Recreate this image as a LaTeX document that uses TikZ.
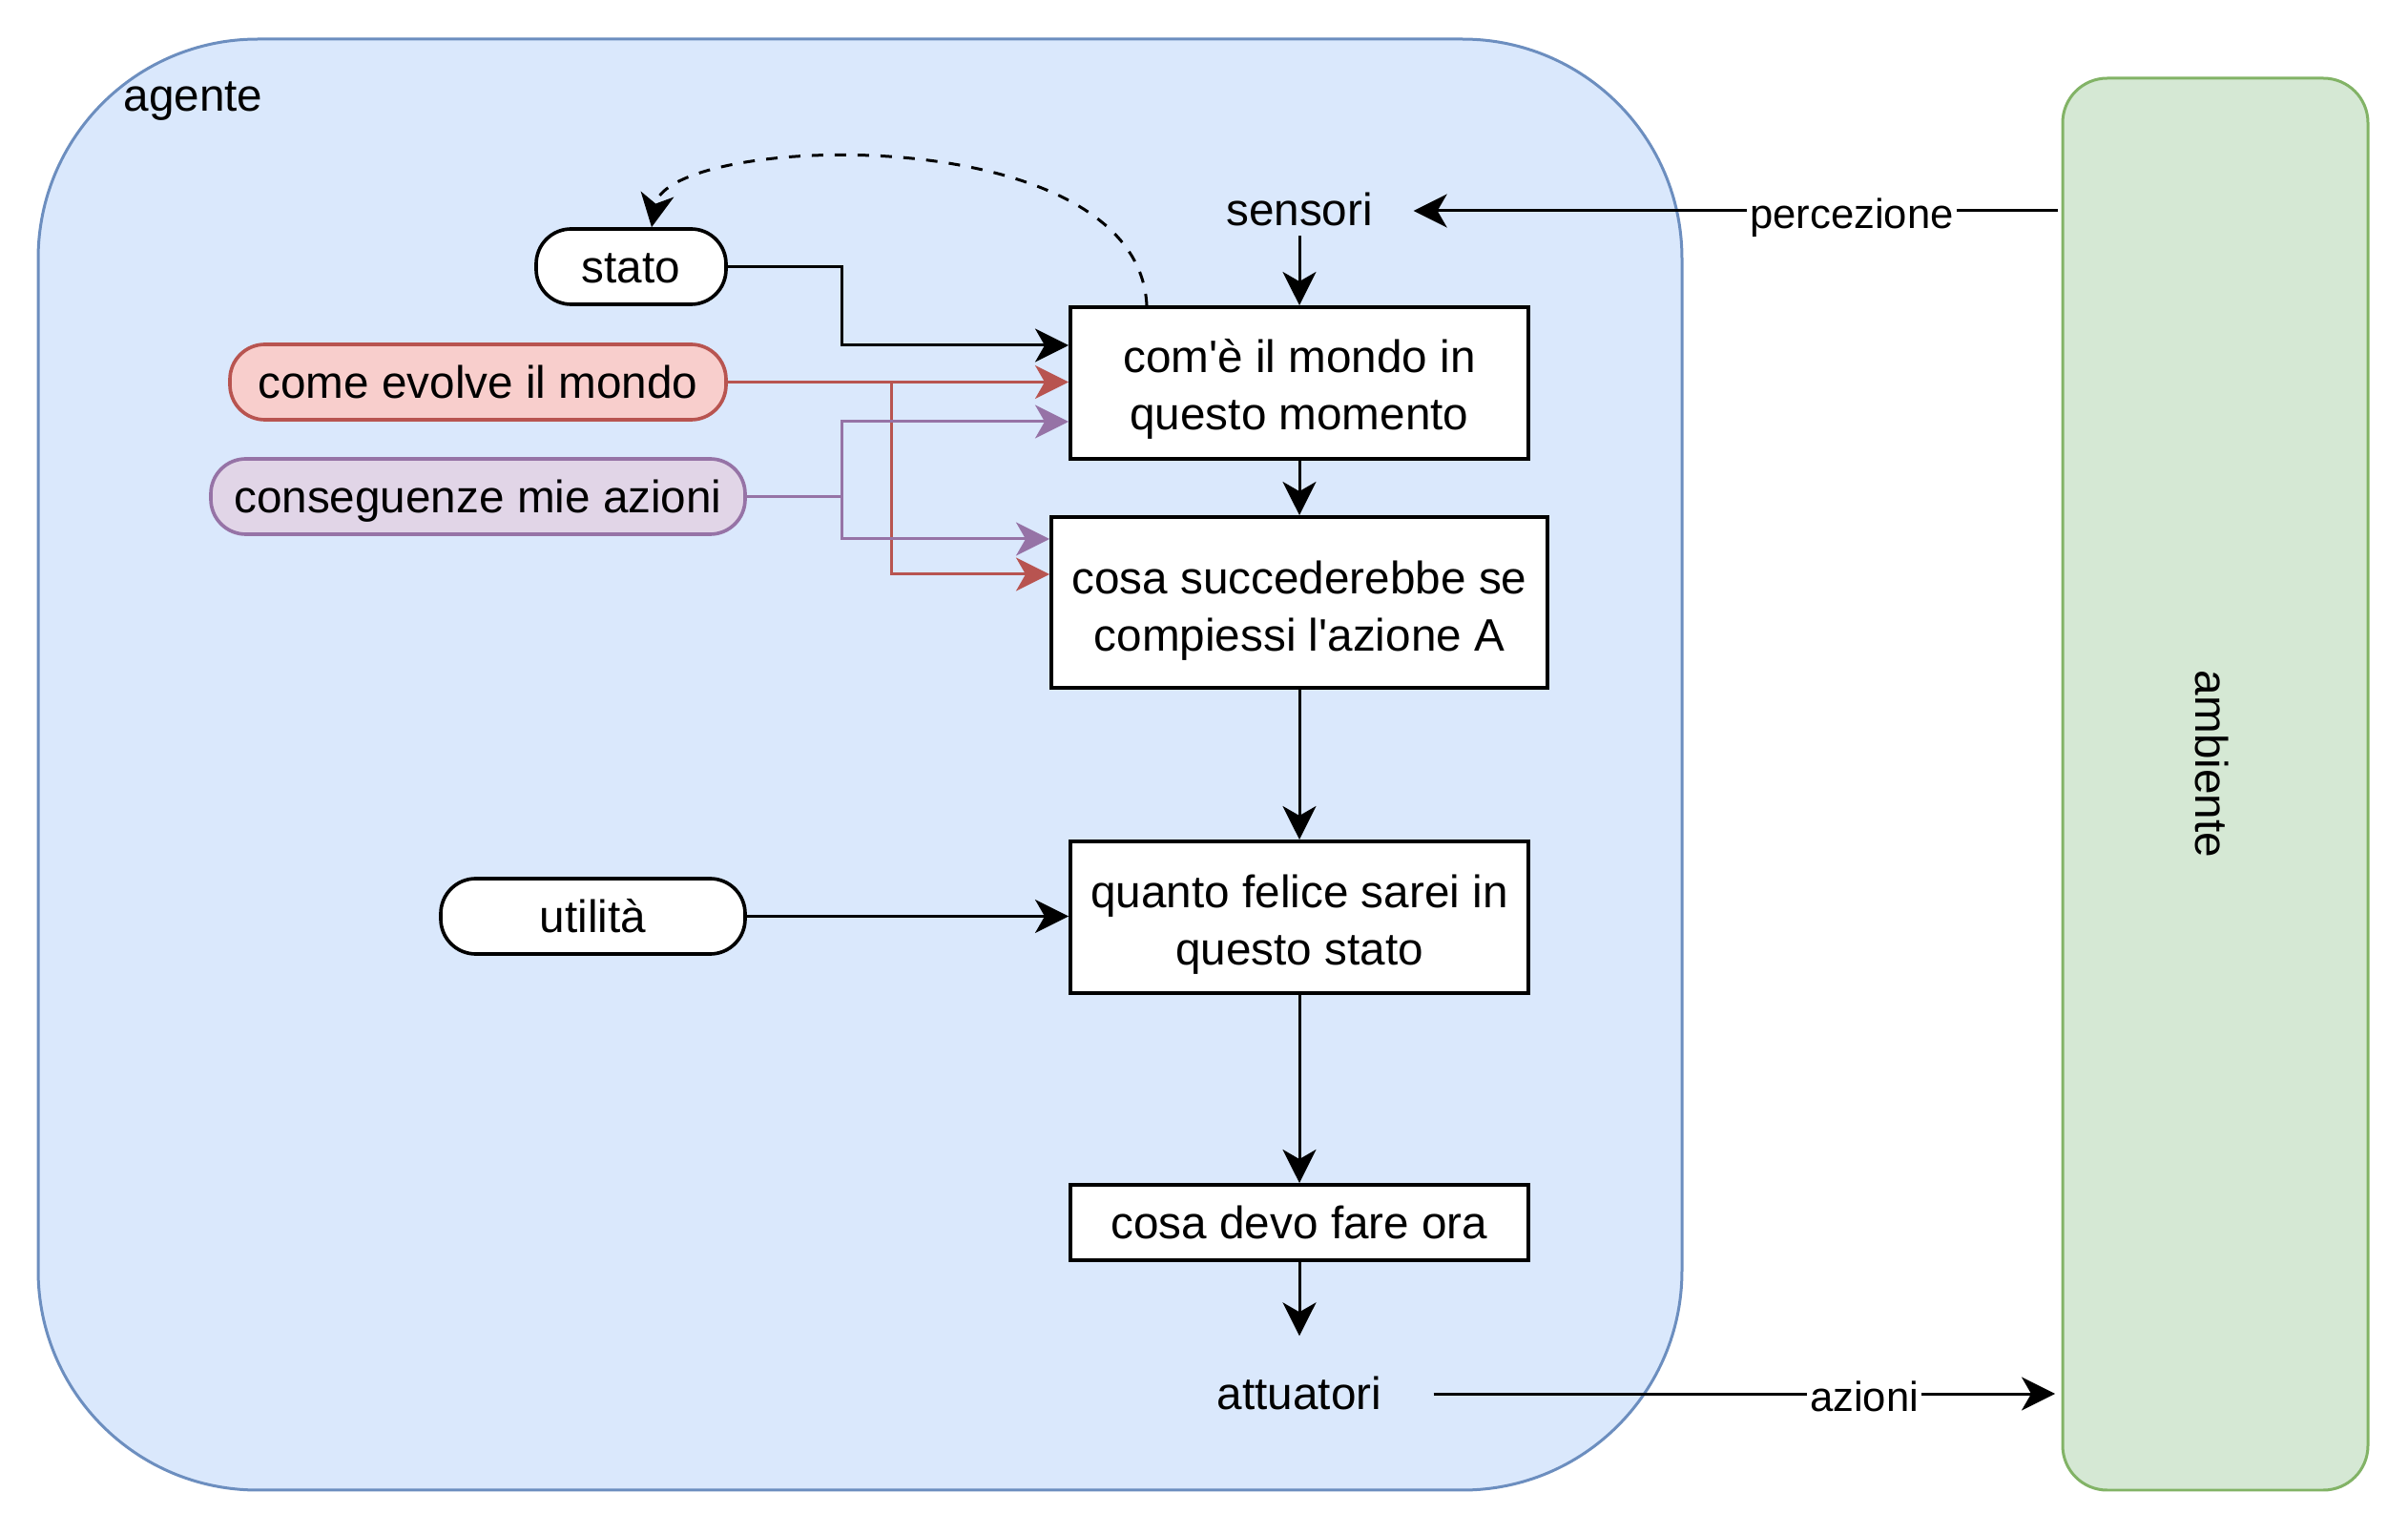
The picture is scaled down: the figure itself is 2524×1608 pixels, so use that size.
\documentclass[tikz,border=0pt]{standalone}
\usepackage{fontspec}
\setmainfont{Liberation Sans}
\usetikzlibrary{arrows.meta}
\definecolor{agfill}{HTML}{DAE8FC}
\definecolor{agdraw}{HTML}{6C8EBF}
\definecolor{amfill}{HTML}{D5E8D4}
\definecolor{amdraw}{HTML}{82B366}
\definecolor{rfill}{HTML}{F8CECC}
\definecolor{rdraw}{HTML}{B85450}
\definecolor{pfill}{HTML}{E1D5E7}
\definecolor{pdraw}{HTML}{9673A6}
\newcommand\dstrut{\rule[-0.212em]{0pt}{1.117em}}
\newcommand\tstrut[1]{\rule[-0.212em]{0pt}{\dimexpr1.117em+#1\relax}}
\newcommand\apos{\XeTeXglyph\XeTeXcharglyph"27\relax}
\begin{document}
\begin{tikzpicture}[x=0.3pt,y=-0.3pt,
  txt/.style={font=\fontsize{14.3pt}{17.9pt}\selectfont, inner sep=0pt, align=center,
    execute at begin node=\dstrut, execute at end node=\dstrut},
  stepbox/.style={txt, draw=black, fill=white, line width=1.2pt},
  pill/.style={txt, draw=black, fill=white, line width=1.1pt, rounded corners=11pt, minimum height=23.7pt},
  arr/.style={line width=0.9pt, -{Stealth[length=10.5pt,width=10.5pt,inset=3pt]}},
  lbl/.style={font=\fontsize{13.1pt}{15pt}\selectfont, fill=white, inner sep=1pt, yshift=-0.9pt, execute at begin node=\dstrut}
]
\useasboundingbox (0,0) rectangle (2524,1608);

% containers
\node[draw=agdraw, fill=agfill, line width=0.9pt, rounded corners=69pt,
      minimum width=516.9pt, minimum height=456.3pt, inner sep=0pt] (agent) at (901.5,801.5) {};
\node[draw=amdraw, fill=amfill, line width=0.9pt, rounded corners=14pt,
      minimum width=96pt, minimum height=444pt, inner sep=0pt] (amb) at (2322,822) {};
\node[txt, rotate=-90] (ambtext) at (2318,801) {ambiente};
\node[txt, anchor=west] (agtext) at (129,99.5) {agente};

% step boxes
\node[stepbox, minimum width=144pt, minimum height=47.7pt] (box1) at (1362,401.5) {\tstrut{1.3pt}com\apos è il mondo in\\questo momento};
\node[stepbox, minimum width=156pt, minimum height=53.7pt] (box2) at (1362,631.5) {\tstrut{2.7pt}cosa succederebbe se\\compiessi l\apos azione A};
\node[stepbox, minimum width=144pt, minimum height=47.7pt] (box3) at (1362,961.5) {\tstrut{2pt}quanto felice sarei in\\questo stato};
\node[stepbox, minimum width=144pt, minimum height=23.7pt] (box4) at (1362,1281.5) {cosa devo fare ora};

% pills
\node[pill, minimum width=59.7pt] (stato) at (661.5,279.5) {stato};
\node[pill, draw=rdraw, fill=rfill, minimum width=156pt] (evolve) at (501,400.5) {come evolve il mondo};
\node[pill, draw=pdraw, fill=pfill, minimum width=168pt] (conseg) at (501,520.5) {conseguenze mie azioni};
\node[pill, minimum width=95.7pt] (utilita) at (621.5,960.5) {utilità};

% free texts
\node[txt, minimum width=71.4pt, minimum height=13.8pt] (sensori) at (1362,220) {sensori};
\node[txt, minimum width=84pt, minimum height=36pt] (attuatori) at (1362,1461) {attuatori};
\coordinate (pin) at (2157,221);
\coordinate (pout) at (2154,1461);

% connectors
\draw[arr] (pin) -- (pin -| sensori.east) node[lbl, pos=0.32] {percezione};
\draw[arr] (sensori.south) -- (box1.north);
\draw[arr] (box1.south) -- (box2.north);
\draw[arr] (box2.south) -- (box3.north);
\draw[arr] (box3.south) -- (box4.north);
\draw[arr] (box4.south) -- (attuatori.north);
\draw[arr] (attuatori.east) -- (pout) node[lbl, pos=0.693] {azioni};
\draw[arr] (utilita.east) -- (utilita.east -| box3.west);
\draw[arr] (stato.east) -| (882,362) -- (box1.west |- 0,362);
\draw[arr, dash pattern=on 3.6pt off 3.6pt] (box1.north -| 1202,0) .. controls (1192,122) and (700,140) .. (stato.north -| 683,0);

\draw[arr, rdraw] (evolve.east) -- (evolve.east -| box1.west);
\draw[arr, rdraw] (evolve.east) -| (934,602) -- (box2.west |- 0,602);
\draw[arr, pdraw] (conseg.east) -| (882,442) -- (box1.west |- 0,442);
\draw[arr, pdraw] (conseg.east) -| (882,565) -- (box2.west |- 0,565);
\end{tikzpicture}
\end{document}
